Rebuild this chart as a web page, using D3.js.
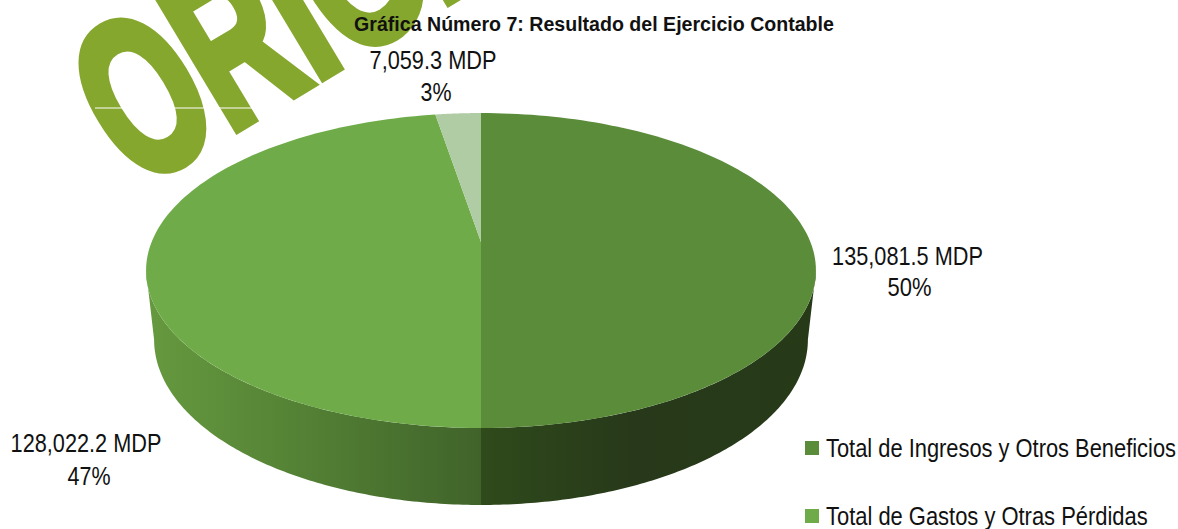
<!DOCTYPE html>
<html><head><meta charset="utf-8">
<script src="https://cdn.jsdelivr.net/npm/d3@7"></script>
<style>html,body{margin:0;padding:0;background:#fff}svg{display:block}text{font-family:"Liberation Sans",Arial,sans-serif;fill:#111}</style>
</head><body><svg id="c" width="1178" height="529"></svg>
<script>
const chartTitle = "Gráfica Número 7: Resultado del Ejercicio Contable";
const categories = ["Total de Ingresos y Otros Beneficios", "Total de Gastos y Otras Pérdidas", "Resultado del Ejercicio"];
const values = [135081.5, 128022.2, 7059.3];
const valueLabels = ["135,081.5 MDP", "128,022.2 MDP", "7,059.3 MDP"];
const percentLabels = ["50%", "47%", "3%"];
const topColors = ["#5b8c3a", "#6fab48", "#b0cca4"];
const legendItems = categories.slice(0, 2);
const watermark = "ORIGINAL";

const svg = d3.select("#c");
const defs = svg.append("defs");

// Perspective-tilted disc
const cx = 481, yApex = 242, a = 108.5, c = 0.181, d = 329.4;
const project = (t) => {
  const u = Math.sin(t), v = -Math.cos(t), w = 1 - c * v;
  return [cx + d * u / w, (a * v + yApex) / w];
};
// lower rim of the drum: slightly narrower, slightly taller ellipse
const lower = ([x, y]) => [cx + (x - cx) * 0.976, 505 - (428 - y) * 1.05];

// Watermark
svg.append("text").text(watermark)
  .attr("transform", "translate(136,189) rotate(-31) scale(0.73,1.17)")
  .attr("font-size", 190).attr("font-weight", "bold")
  .style("fill", "#86a72e").style("stroke", "#86a72e").style("stroke-width", 9);
const wmLine = d3.line();
svg.append("path").attr("d", wmLine([[95,108],[255,108]])).attr("stroke", "#fff").attr("stroke-width", 1.2);

const pie = d3.pie().sort(null).value(v => v)(values);
const rim = (s, e) => d3.range(0, 121).map(i => project(s + (e - s) * i / 120));
const line = d3.line();

// Side walls
const wallGrads = [
  {id: "w0", stops: [["0%", "#2f4a1b"], ["45%", "#27391a"], ["100%", "#263a18"]], x1: 481, x2: 816},
  {id: "w1", stops: [["0%", "#66993f"], ["40%", "#568536"], ["100%", "#40632a"]], x1: 146, x2: 481},
];
wallGrads.forEach(g => {
  const lg = defs.append("linearGradient").attr("id", g.id).attr("gradientUnits", "userSpaceOnUse")
    .attr("x1", g.x1).attr("x2", g.x2).attr("y1", 0).attr("y2", 0);
  g.stops.forEach(s => lg.append("stop").attr("offset", s[0]).attr("stop-color", s[1]));
});
const wallRange = [[Math.PI / 2 + 0.182, pie[0].endAngle, 0], [pie[1].startAngle, Math.PI * 3 / 2 - 0.182, 1]];
wallRange.forEach(([s, e, i]) => {
  const top = rim(s, e), bot = top.map(lower).reverse();
  svg.append("path").attr("d", line(top.concat(bot)) + "Z").attr("fill", `url(#w${i})`);
});

// Top face
pie.forEach((p, i) => {
  const pts = [[cx, yApex]].concat(rim(p.startAngle, p.endAngle));
  svg.append("path").attr("d", line(pts) + "Z").attr("fill", topColors[i]);
});

// Text helper: horizontally condensed to a measured width
const label = (str, x, y, w, size, anchor, weight) => {
  const t = svg.append("text").text(str).attr("font-size", size).attr("text-anchor", anchor).attr("font-weight", weight || "normal");
  const sx = w / t.node().getComputedTextLength();
  t.attr("transform", `translate(${x},${y}) scale(${sx},1)`);
  return t;
};

label(chartTitle, 594, 31, 480, 21, "middle", "bold");
const labelPos = [[907.5, 265, 151, 296], [86, 452, 151, 485], [433, 69, 127, 101]];
const pctW = [44, 43, 31];
pie.forEach((p, i) => {
  const [x, y, w, y2] = labelPos[i];
  label(valueLabels[i], x, y, w, 25.5, "middle");
  label(percentLabels[i], x + (i === 1 ? 3 : i === 2 ? 3 : 2), y2, pctW[i], 25.5, "middle");
});

// Legend
const legendY = d3.scalePoint().domain(legendItems).range([448, 516]);
const legendW = [350, 322];
legendItems.forEach((t, i) => {
  svg.append("rect").attr("x", 805).attr("y", legendY(t) - 7).attr("width", 14).attr("height", 14).attr("fill", topColors[i]);
  label(t, 826, legendY(t) + 9, legendW[i], 25.5, "start");
});
</script></body></html>
